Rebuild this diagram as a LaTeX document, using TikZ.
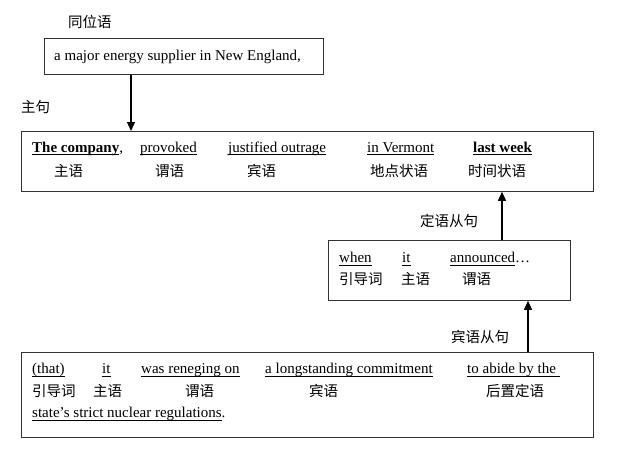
\documentclass[tikz,border=0pt]{standalone}
\usepackage{fontspec}
\setmainfont{Liberation Serif}
\newfontfamily\cjk{Noto Sans CJK SC}
\newcommand\uword[1]{\setbox0\hbox{#1}\rlap{\rule[-2.6pt]{\wd0}{0.6pt}}\box0}
\usetikzlibrary{arrows.meta}

\begin{document}
\begin{tikzpicture}[x=1pt,y=-1pt,
    box/.style={draw=black!80,line width=0.8pt,anchor=north west,inner sep=0pt},
    word/.style={anchor=west,inner sep=0pt,text height=10.5pt,text depth=3.5pt,font=\fontsize{15}{18}\selectfont},
    tag/.style={anchor=west,inner sep=0pt,text height=10.5pt,text depth=3.5pt,font=\fontsize{14.5}{18}\selectfont\cjk},
    arr/.style={-{Triangle[length=9pt,width=8pt]},line width=1.3pt}]
    \useasboundingbox (0,0) rectangle (619,452);

    \node[box,minimum width=279pt,minimum height=36pt]   (appos) at (44,38)   {};
    \node[box,minimum width=572.5pt,minimum height=60pt] (main)  at (20.5,131) {};
    \node[box,minimum width=242pt,minimum height=60pt]   (rel)   at (328,240)  {};
    \node[box,minimum width=572.5pt,minimum height=85pt] (obj)   at (20.5,352) {};

    \node[tag] (l1) at (68,24)   {同位语};
    \node[tag] (l2) at (21,109)  {主句};
    \node[tag] (l3) at (420,223) {定语从句};
    \node[tag] (l4) at (451,339) {宾语从句};

    \node[word] (a1) at (54,57) {a major energy supplier in New England,};

    \node[word] (m1) at (32,149)  {\uword{\bfseries The company},};
    \node[word] (m2) at (140,149) {\uword{provoked}};
    \node[word] (m3) at (228,149) {\uword{justified outrage}};
    \node[word] (m4) at (367,149) {\uword{in Vermont}};
    \node[word] (m5) at (473,149) {\uword{\bfseries last week}};
    \node[tag]  (n1) at (54,173)  {主语};
    \node[tag]  (n2) at (155,173) {谓语};
    \node[tag]  (n3) at (247,173) {宾语};
    \node[tag]  (n4) at (370,173) {地点状语};
    \node[tag]  (n5) at (468,173) {时间状语};

    \node[word] (r1) at (339,259) {\uword{when}};
    \node[word] (r2) at (402,259) {\uword{it}};
    \node[word] (r3) at (450,259) {\uword{announced}…};
    \node[tag]  (s1) at (339,281) {引导词};
    \node[tag]  (s2) at (401,281) {主语};
    \node[tag]  (s3) at (462,281) {谓语};

    \node[word] (o1) at (32,370)  {\uword{(that)}};
    \node[word] (o2) at (102,370) {\uword{it}};
    \node[word] (o3) at (141,370) {\uword{was reneging on}};
    \node[word] (o4) at (265,370) {\uword{a longstanding commitment}};
    \node[word] (o5) at (467,370) {\uword{to abide by the\ }};
    \node[tag]  (q1) at (32,393)  {引导词};
    \node[tag]  (q2) at (93,393)  {主语};
    \node[tag]  (q3) at (185,393) {谓语};
    \node[tag]  (q4) at (309,393) {宾语};
    \node[tag]  (q5) at (486,393) {后置定语};
    \node[word] (o6) at (32,414)  {\uword{state’s strict nuclear regulations}.};

    \coordinate (x1) at (131,0);
    \coordinate (x2) at (502,0);
    \coordinate (x3) at (528,0);
    \draw[arr] (appos.south -| x1) -- (main.north -| x1);
    \draw[arr] (rel.north -| x2) -- (main.south -| x2);
    \draw[arr] (obj.north -| x3) -- (rel.south -| x3);
\end{tikzpicture}
\end{document}
